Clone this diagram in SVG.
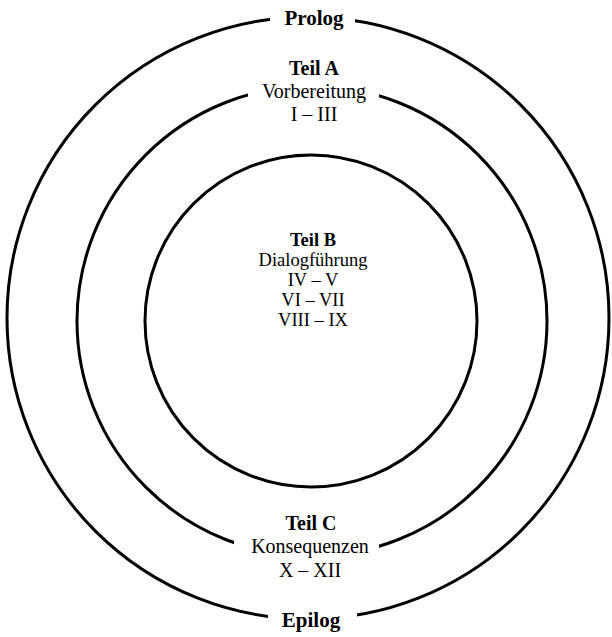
<svg xmlns="http://www.w3.org/2000/svg" width="612" height="637" viewBox="0 0 612 637">
<style>
.ring{fill:none;stroke:#000;stroke-width:3}
.gap{fill:#fff;stroke:none}
text{font-family:"Liberation Serif","Times New Roman",serif;font-size:21px;fill:#000;text-anchor:middle}
.b{font-weight:bold}
.m{font-size:20px}
.s{font-size:18.5px}
</style>
<rect width="612" height="637" fill="#fff"/>
<g id="connectors">
<circle id="outer" class="ring" cx="308" cy="318" r="301"/>
<circle id="middle" class="ring" cx="312" cy="321" r="235"/>
<circle id="inner" class="ring" cx="311" cy="321" r="166"/>
</g>
<g id="prolog">
<rect class="gap" x="270" y="8" width="85" height="22"/>
<text class="b" x="314" y="25">Prolog</text>
</g>
<g id="teilA">
<text class="b m" x="314" y="75">Teil A</text>
<rect class="gap" x="248" y="80" width="131" height="22"/>
<text class="m" x="314" y="98">Vorbereitung</text>
<text class="m" x="314" y="121">I – III</text>
</g>
<g id="teilB">
<text class="b s" x="313" y="246">Teil B</text>
<text class="s" x="313" y="266">Dialogführung</text>
<text class="s" x="313" y="286">IV – V</text>
<text class="s" x="313" y="306">VI – VII</text>
<text class="s" x="313" y="326">VIII – IX</text>
</g>
<g id="teilC">
<text class="b m" x="311" y="530">Teil C</text>
<rect class="gap" x="234" y="534" width="145" height="24"/>
<text class="m" x="310" y="553">Konsequenzen</text>
<text class="m" x="310" y="577">X – XII</text>
</g>
<g id="epilog">
<rect class="gap" x="268" y="605" width="89" height="28"/>
<text class="b" x="311" y="627">Epilog</text>
</g>
</svg>
